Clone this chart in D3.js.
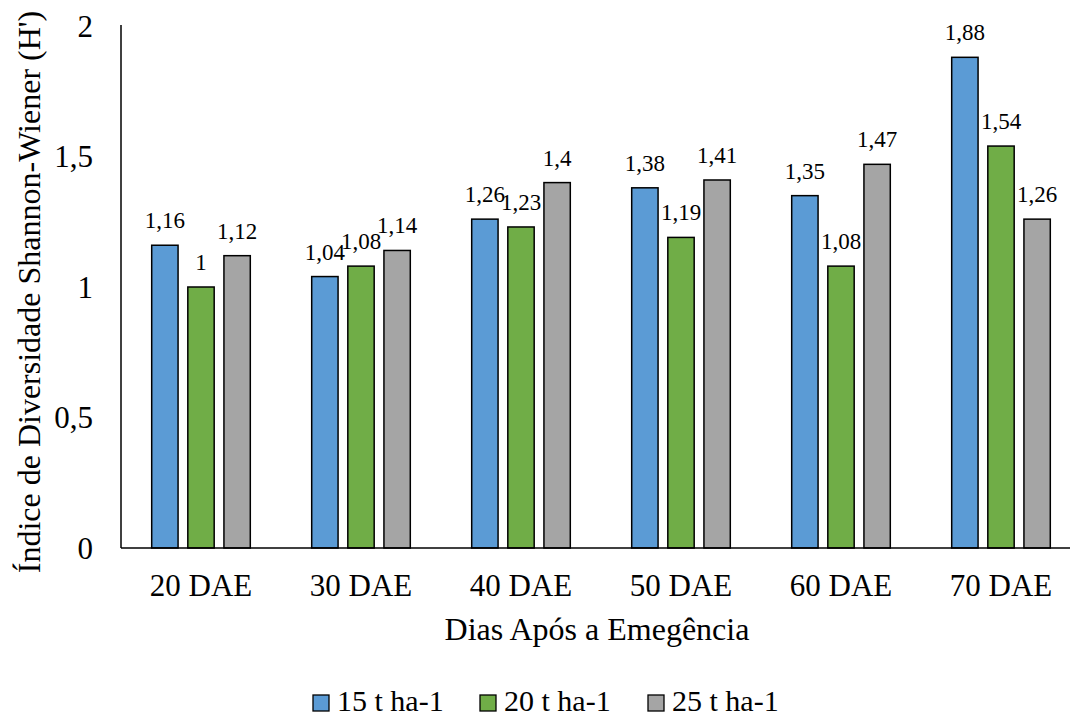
<!DOCTYPE html>
<html><head><meta charset="utf-8">
<script src="https://cdn.jsdelivr.net/npm/d3@7"></script>
<style>body{margin:0;background:#fff;} svg{display:block;}</style>
</head><body>
<svg id="c" width="1070" height="720" font-family="Tinos, 'Liberation Serif', 'Noto Serif', 'DejaVu Serif', 'Times New Roman', serif"></svg>
<script>
const categories = ["20 DAE","30 DAE","40 DAE","50 DAE","60 DAE","70 DAE"];
const seriesNames = ["15 t ha-1","20 t ha-1","25 t ha-1"];
const s15 = [1.16,1.04,1.26,1.38,1.35,1.88];
const s20 = [1.00,1.08,1.23,1.19,1.08,1.54];
const s25 = [1.12,1.14,1.40,1.41,1.47,1.26];
const yTicks = [0,0.5,1,1.5,2];
const colors = ["#5B9BD5","#70AD47","#A5A5A5"];

const series = [s15,s20,s25];
const svg = d3.select("#c");
const pLeft = 121, pBottom = 548, pTop = 26, pRight = 1081;
const fmt = v => String(v).replace(".", ",");

const x = d3.scaleBand().domain(categories).range([pLeft,pRight]).paddingInner(0).paddingOuter(0);
const y = d3.scaleLinear().domain([0,2]).range([pBottom,pTop]);
const inner = d3.scaleBand().domain(seriesNames).range([30.7, x.bandwidth()-30.7]).paddingInner(0.27).paddingOuter(0);

svg.append("line").attr("x1",pLeft).attr("x2",pLeft).attr("y1",y(2)-1).attr("y2",pBottom).attr("stroke","#000").attr("stroke-width",1.5);

svg.append("g").selectAll("text").data(yTicks).join("text")
  .attr("x",93).attr("y",d=>y(d)).attr("dy","0.35em").attr("text-anchor","end")
  .attr("font-size",31).text(d=>fmt(d));

const g = svg.append("g");
series.forEach((vals,si)=>{
  g.selectAll(null).data(vals).join("rect")
    .attr("x",(d,i)=>x(categories[i])+inner(seriesNames[si]))
    .attr("y",d=>y(d)).attr("width",inner.bandwidth()).attr("height",d=>pBottom-y(d))
    .attr("fill",colors[si]).attr("stroke","#000").attr("stroke-width",1.5);
  g.selectAll(null).data(vals).join("text")
    .attr("x",(d,i)=>x(categories[i])+inner(seriesNames[si])+inner.bandwidth()/2)
    .attr("y",d=>y(d)-17).attr("text-anchor","middle").attr("font-size",23).text(d=>fmt(d));
});

svg.append("line").attr("x1",pLeft).attr("x2",1070).attr("y1",pBottom).attr("y2",pBottom).attr("stroke","#000").attr("stroke-width",1.5);

svg.append("g").selectAll("text").data(categories).join("text")
  .attr("x",d=>x(d)+x.bandwidth()/2).attr("y",596).attr("text-anchor","middle")
  .attr("font-size",31).text(d=>d);

svg.append("text").attr("x",597).attr("y",640).attr("text-anchor","middle").attr("font-size",32).text("Dias Após a Emegência");
svg.append("text").attr("transform","translate(40,292) rotate(-90)").attr("text-anchor","middle").attr("font-size",32).text("Índice de Diversidade Shannon-Wiener (H')");

const legX = [313,480,648];
const leg = svg.append("g");
seriesNames.forEach((n,i)=>{
  leg.append("rect").attr("x",legX[i]).attr("y",695).attr("width",16).attr("height",16).attr("fill",colors[i]).attr("stroke","#000").attr("stroke-width",1.3);
  leg.append("text").attr("x",legX[i]+24).attr("y",711).attr("font-size",30).text(n);
});
</script>
</body></html>
